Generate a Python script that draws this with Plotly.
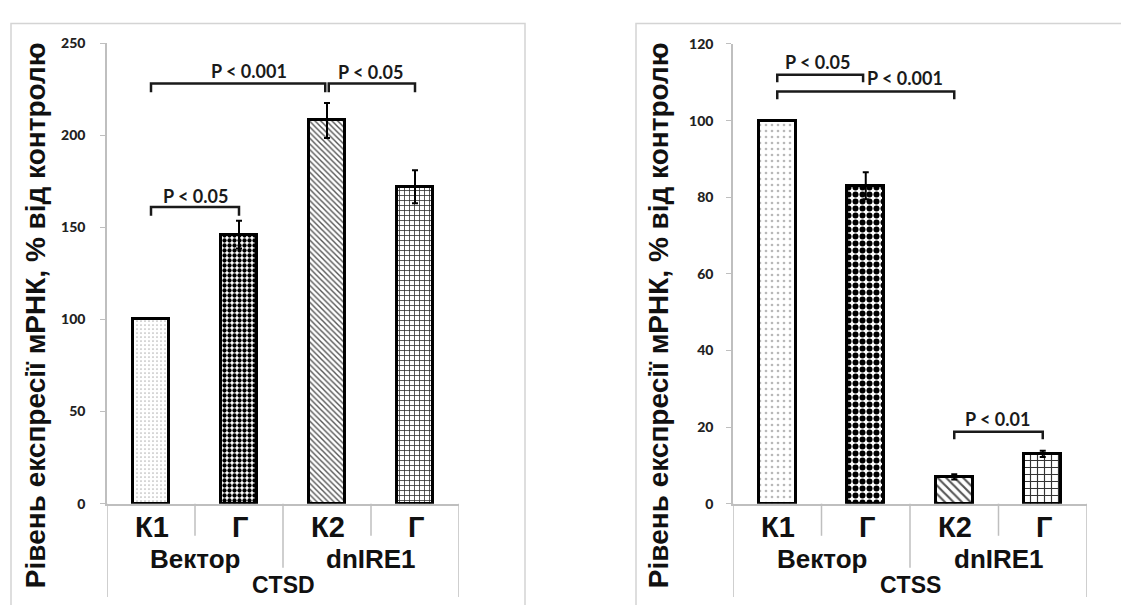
import plotly.graph_objects as go

# ---------------- data ----------------
categories = ["К1", "Г", "К2", "Г"]
groups = ["Вектор", "dnIRE1"]
genes = ["CTSD", "CTSS"]
ctsd_values = [100, 146, 208, 172]
ctsd_errors = [0, 7.5, 9.5, 9]
ctss_values = [100, 83, 7, 13]
ctss_errors = [0, 3.5, 0.7, 0.8]
ctsd_ticks = [0, 50, 100, 150, 200, 250]
ctss_ticks = [0, 20, 40, 60, 80, 100, 120]
y_title = "Рівень експресії мРНК, % від контролю"
# significance brackets: (x_start, x_end, level, drop, label, label_x, label_y)
ctsd_sig = [(0, 1, 161, 4.7, "P < 0.05", 0.5, 167),
            (0, 1.98, 228, 4.7, "P < 0.001", 1.11, 235),
            (2.02, 3, 228, 4.7, "P < 0.05", 2.49, 234.5)]
ctss_sig = [(0, 0.97, 112, 2.0, "P < 0.05", 0.46, 115.3),
            (0, 2, 107.6, 2.0, "P < 0.001", 1.44, 111),
            (2, 3, 18.8, 2.0, "P < 0.01", 2.49, 22.1)]

W, H = 1121, 605
GRAY = "#bfbfbf"
BOX = "#d4d4d4"

def px(x):
    return x / W

def py(y):
    return (H - y) / H

pos = list(range(len(categories)))

def pattern(i, size):
    shapes = [".", ".", "\\", "+"]
    fg = ["#b8b8b8", "#000000", "#555555", "#333333"]
    sol = [0.15, 0.58, 0.35, 0.3]
    sz = [size - 1, size, size - 1, size]
    return dict(shape=shapes[i], fgcolor=fg[i], bgcolor="white",
                size=sz[i], solidity=sol[i], fillmode="replace")

fig = go.Figure()

for k, (vals, errs, xa, ya, psize) in enumerate([
        (ctsd_values, ctsd_errors, "x", "y", 5),
        (ctss_values, ctss_errors, "x2", "y2", 7)]):
    for i in pos:
        fig.add_trace(go.Bar(
            x=[pos[i]], y=[vals[i]], width=0.42,
            xaxis=xa, yaxis=ya,
            marker=dict(color="white", line=dict(color="black", width=3),
                        pattern=pattern(i, psize)),
            error_y=dict(type="data", array=[errs[i]], visible=errs[i] > 0,
                         color="black", thickness=2, width=3),
            showlegend=False, hoverinfo="skip"))

axis_common = dict(showgrid=False, zeroline=False)
tick_font = dict(family="Lato", size=14, color="#222", weight=900)
fig.update_layout(
    width=W, height=H, margin=dict(l=0, r=0, t=0, b=0),
    paper_bgcolor="white", plot_bgcolor="white", bargap=0,
    xaxis=dict(domain=[px(107), px(459)], range=[-0.5, 3.5], showticklabels=False,
               ticks="", showline=True, linecolor=GRAY, linewidth=1.5,
               anchor="y", **axis_common),
    yaxis=dict(domain=[py(509), py(35)], range=[0, 250], tickvals=ctsd_ticks,
               ticks="outside", ticklen=5, tickcolor=GRAY, showline=True,
               linecolor=GRAY, linewidth=1.5, ticklabelstandoff=12,
               tickfont=tick_font, anchor="x", **axis_common),
    xaxis2=dict(domain=[px(733), px(1087)], range=[-0.5, 3.5], showticklabels=False,
                ticks="", showline=True, linecolor=GRAY, linewidth=1.5,
                anchor="y2", **axis_common),
    yaxis2=dict(domain=[py(509), py(36)], range=[0, 120], tickvals=ctss_ticks,
                ticks="outside", ticklen=5, tickcolor=GRAY, showline=True,
                linecolor=GRAY, linewidth=1.5, ticklabelstandoff=10,
                tickfont=tick_font, anchor="x2", **axis_common),
)

# outer chart boxes
fig.add_shape(type="rect", xref="paper", yref="paper", x0=px(11), x1=px(525),
              y0=-0.2, y1=py(15), line=dict(color=BOX, width=1.5), layer="below")
fig.add_shape(type="rect", xref="paper", yref="paper", x0=px(636), x1=1.2,
              y0=-0.2, y1=py(15), line=dict(color=BOX, width=1.5), layer="below")

label_font = "Liberation Sans, Arial, sans-serif"
for xa, ya, sig, gene in [("x", "y", ctsd_sig, genes[0]), ("x2", "y2", ctss_sig, genes[1])]:
    # category axis dividers
    for xv, ybot in [(-0.5, 0.0), (0.5, py(542)), (1.5, py(575)), (2.5, py(542)), (3.5, 0.0)]:
        fig.add_shape(type="line", xref=xa, yref="paper", x0=xv, x1=xv,
                      y0=ybot, y1=py(509), line=dict(color=GRAY, width=1.5))
    # category labels
    for i in pos:
        fig.add_annotation(xref=xa, yref="paper", x=pos[i], y=py(533),
                           xanchor="center", yanchor="middle",
                           text=categories[i], showarrow=False, xshift=1,
                           font=dict(family=label_font, size=29, color="#111", weight="bold"))
    for g, xg in zip(groups, [0.5, 2.5]):
        fig.add_annotation(xref=xa, yref="paper", x=xg, y=py(566),
                           xanchor="center", yanchor="middle",
                           text=g, showarrow=False,
                           font=dict(family=label_font, size=26, color="#111", weight="bold"))
    fig.add_annotation(xref=xa, yref="paper", x=1.5, y=py(593), text=gene,
                       xanchor="center", yanchor="middle", showarrow=False,
                       font=dict(family=label_font, size=23, color="#111", weight="bold"))
    # significance brackets
    for x0, x1, lvl, drop, txt, tx, ty in sig:
        fig.add_shape(type="path", xref=xa, yref=ya,
                      path=f"M {x0} {lvl - drop} L {x0} {lvl} L {x1} {lvl} L {x1} {lvl - drop}",
                      line=dict(color="#1a1a1a", width=2.5))
        fig.add_annotation(xref=xa, yref=ya, x=tx, y=ty, text=txt, showarrow=False,
                           xanchor="center", yanchor="middle",
                           font=dict(family="Lato", size=18, color="#1a1a1a", weight="bold"))

# y-axis titles
for xt in [35, 658]:
    fig.add_annotation(xref="paper", yref="paper", x=px(xt), y=py(315), text=y_title,
                       xanchor="center", yanchor="middle",
                       textangle=-90, showarrow=False,
                       font=dict(family=label_font, size=28, color="#111", weight="bold"))

fig.write_html("out.html")
